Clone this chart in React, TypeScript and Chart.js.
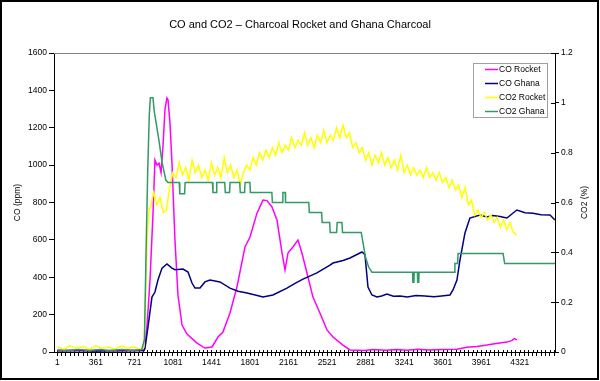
import React, { useEffect, useRef } from "react";
import { Chart, registerables } from "chart.js";

Chart.register(...registerables);

const FONT = "Arial, 'Liberation Sans', sans-serif";

const TITLE = "CO and CO2 \u2013 Charcoal Rocket and Ghana Charcoal";
const SERIES_NAMES = ["CO Rocket", "CO Ghana", "CO2 Rocket", "CO2 Ghana"];
const SERIES_COLORS = ["#FF00FF", "#000080", "#FFFF00", "#339966"];
const Y_LEFT_TITLE = "CO (ppm)";
const Y_RIGHT_TITLE = "CO2 (%)";
const X_LABELS = [1, 361, 721, 1081, 1441, 1801, 2161, 2521, 2881, 3241, 3601, 3961, 4321];
const CO_TICKS = [0, 200, 400, 600, 800, 1000, 1200, 1400, 1600];
const CO2_TICKS = [0, 0.2, 0.4, 0.6, 0.8, 1.0, 1.2];

// [sample index, CO ppm]
const coRocket: [number, number][] = [
  [1, 5], [270, 8], [570, 5], [810, 8], [820, 30], [840, 150], [867, 385], [895, 743],
  [913, 1027], [932, 1000], [951, 1010], [970, 960], [988, 1100], [1007, 1300], [1025, 1359],
  [1035, 1350], [1053, 1230], [1072, 1011], [1100, 599], [1128, 305], [1166, 144], [1212, 96],
  [1306, 48], [1380, 21], [1446, 27], [1502, 80], [1548, 107], [1614, 209], [1679, 348],
  [1754, 562], [1801, 615], [1866, 743], [1922, 813], [1959, 810], [2006, 776], [2053, 706],
  [2100, 530], [2128, 439], [2156, 530], [2202, 562], [2249, 599], [2286, 530], [2333, 423],
  [2389, 294], [2454, 209], [2520, 118], [2576, 80], [2669, 37], [2735, 11], [2870, 8],
  [2950, 13], [3070, 9], [3170, 14], [3270, 10], [3370, 15], [3470, 11], [3600, 14],
  [3734, 15], [3827, 25], [3920, 30], [4014, 37], [4100, 45], [4201, 53], [4250, 62],
  [4270, 72], [4294, 65],
];

// [sample index, CO ppm]
const coGhana: [number, number][] = [
  [1, 8], [170, 10], [370, 6], [570, 10], [810, 8], [820, 20], [848, 134], [885, 294],
  [913, 321], [941, 385], [979, 449], [1025, 471], [1072, 449], [1100, 440], [1175, 444],
  [1222, 428], [1259, 369], [1287, 342], [1334, 342], [1380, 375], [1427, 385], [1520, 375],
  [1614, 342], [1690, 325], [1773, 316], [1850, 305], [1922, 294], [2015, 305], [2146, 342],
  [2230, 370], [2296, 390], [2426, 423], [2548, 465], [2576, 476], [2670, 490], [2735, 503],
  [2847, 535], [2875, 520], [2903, 348], [2940, 305], [2987, 294], [3030, 300], [3080, 310],
  [3140, 298], [3202, 300], [3270, 295], [3350, 302], [3435, 300], [3520, 296], [3590, 300],
  [3669, 305], [3697, 332], [3734, 385], [3762, 492], [3809, 637], [3855, 717], [3949, 733],
  [4014, 722], [4070, 730], [4136, 725], [4201, 717], [4250, 740], [4294, 760], [4370, 745],
  [4444, 743], [4520, 735], [4603, 733], [4650, 706],
];

// [sample index, CO2 %] before the fire starts
const co2RocketStart: [number, number][] = [
  [1, 0.02], [60, 0.01], [120, 0.025], [180, 0.015], [240, 0.022], [300, 0.01], [360, 0.025],
  [420, 0.015], [480, 0.02], [540, 0.012], [600, 0.024], [660, 0.015], [720, 0.02], [780, 0.01],
  [810, 0.02], [820, 0.15], [840, 0.45], [855, 0.56],
];
// CO2 Rocket read every 30 samples, from sample 870
const CO2_ROCKET_FIRST = 870;
const CO2_ROCKET_STEP = 30;
const co2RocketValues = [
  0.58, 0.64, 0.59, 0.62, 0.56, 0.57, 0.66, 0.72, 0.70, 0.76,
  0.71, 0.74, 0.69, 0.77, 0.72, 0.75, 0.70, 0.73, 0.69, 0.76,
  0.71, 0.74, 0.70, 0.78, 0.72, 0.75, 0.70, 0.73, 0.67, 0.72,
  0.75, 0.73, 0.78, 0.75, 0.80, 0.77, 0.81, 0.78, 0.82, 0.79,
  0.84, 0.80, 0.83, 0.81, 0.86, 0.82, 0.85, 0.83, 0.88, 0.83,
  0.86, 0.82, 0.87, 0.84, 0.89, 0.84, 0.87, 0.85, 0.90, 0.86,
  0.91, 0.86, 0.88, 0.82, 0.84, 0.80, 0.82, 0.77, 0.80, 0.75,
  0.79, 0.76, 0.80, 0.75, 0.78, 0.74, 0.77, 0.73, 0.79, 0.72,
  0.75, 0.71, 0.74, 0.71, 0.73, 0.70, 0.74, 0.70, 0.72, 0.69,
  0.72, 0.68, 0.70, 0.66, 0.69, 0.65, 0.67, 0.62, 0.66, 0.59,
  0.61, 0.55, 0.57, 0.54, 0.56, 0.53, 0.55, 0.52, 0.54, 0.50,
  0.53, 0.49, 0.52, 0.48, 0.47,
];

// [sample index, CO2 %]
const co2Ghana: [number, number][] = [
  [1, 0.008], [100, 0.005], [200, 0.01], [300, 0.006], [400, 0.01], [500, 0.005], [600, 0.01],
  [700, 0.006], [790, 0.01], [815, 0.05], [830, 0.4], [845, 0.72], [860, 0.95], [870, 1.02],
  [895, 1.02], [905, 0.97], [920, 0.93], [950, 0.85], [980, 0.76], [1015, 0.69], [1035, 0.68],
  [1140, 0.68], [1145, 0.635], [1190, 0.635], [1195, 0.68], [1450, 0.68], [1455, 0.64],
  [1485, 0.64], [1490, 0.68], [1565, 0.68], [1570, 0.64], [1610, 0.64], [1615, 0.68],
  [1705, 0.68], [1710, 0.64], [1750, 0.64], [1755, 0.68], [1800, 0.68], [1805, 0.64],
  [2005, 0.64], [2010, 0.60], [2105, 0.60], [2108, 0.64], [2130, 0.64], [2133, 0.60],
  [2350, 0.60], [2355, 0.56], [2470, 0.56], [2475, 0.52], [2545, 0.52], [2550, 0.48],
  [2610, 0.48], [2615, 0.52], [2660, 0.52], [2665, 0.48], [2840, 0.48], [2860, 0.43],
  [2880, 0.38], [2910, 0.34], [2940, 0.32], [3320, 0.32], [3322, 0.28], [3332, 0.28],
  [3335, 0.32], [3365, 0.32], [3367, 0.28], [3377, 0.28], [3380, 0.32], [3710, 0.32],
  [3715, 0.355], [3740, 0.355], [3745, 0.395], [4165, 0.395], [4180, 0.355], [4650, 0.355],
];

const X_MIN = -30;
const X_MAX = 4650;
const X_TICK_EVERY = 40;

function co2RocketData(): [number, number][] {
  const pts: [number, number][] = co2RocketStart.slice();
  co2RocketValues.forEach((v, i) => pts.push([CO2_ROCKET_FIRST + i * CO2_ROCKET_STEP, v]));
  return pts;
}

const decor = {
  id: "decor",
  beforeDatasetsDraw(chart: any) {
    const { ctx, chartArea: a } = chart;
    ctx.save();
    ctx.strokeStyle = "#808080";
    ctx.lineWidth = 1;
    ctx.beginPath();
    ctx.moveTo(a.left, Math.round(a.top) + 0.5);
    ctx.lineTo(a.right, Math.round(a.top) + 0.5);
    ctx.stroke();
    // inner halves of the cross tick marks
    ctx.strokeStyle = "#000";
    const y1 = chart.scales.y1;
    ctx.beginPath();
    y1.ticks.forEach((t: any) => {
      const y = Math.round(y1.getPixelForValue(t.value)) + 0.5;
      ctx.moveTo(a.right - 4, y);
      ctx.lineTo(a.right, y);
    });
    const xs = chart.scales.x;
    xs.ticks.forEach((t: any) => {
      const x = Math.round(xs.getPixelForValue(t.value)) + 0.5;
      ctx.moveTo(x, a.bottom - 2);
      ctx.lineTo(x, a.bottom);
    });
    ctx.stroke();
    ctx.restore();
  },
  afterDatasetsDraw(chart: any) {
    const { ctx } = chart;
    ctx.save();
    // legend
    const lx = 473, ly = 63, lw = 74, lh = 54;
    ctx.fillStyle = "#fff";
    ctx.fillRect(lx, ly, lw, lh);
    ctx.strokeStyle = "#a0a0a0";
    ctx.lineWidth = 1;
    ctx.strokeRect(lx + 0.5, ly + 0.5, lw, lh);
    ctx.font = `8.5px ${FONT}`;
    ctx.textBaseline = "middle";
    ctx.textAlign = "left";
    SERIES_NAMES.forEach((name, i) => {
      const y = ly + 6.5 + i * 14;
      ctx.strokeStyle = SERIES_COLORS[i];
      ctx.lineWidth = 1.5;
      ctx.beginPath();
      ctx.moveTo(485, y);
      ctx.lineTo(498, y);
      ctx.stroke();
      ctx.fillStyle = "#000";
      ctx.fillText(name, 499, y);
    });
    ctx.restore();
  },
  afterDraw(chart: any) {
    const { ctx, chartArea: a } = chart;
    ctx.save();
    ctx.fillStyle = "#000";
    ctx.font = `8.5px ${FONT}`;
    ctx.textAlign = "center";
    ctx.textBaseline = "middle";
    const cy = (a.top + a.bottom) / 2;
    ctx.translate(18, cy);
    ctx.rotate(-Math.PI / 2);
    ctx.fillText(Y_LEFT_TITLE, 0, 0);
    ctx.restore();
    ctx.save();
    ctx.fillStyle = "#000";
    ctx.font = `8.5px ${FONT}`;
    ctx.textAlign = "center";
    ctx.textBaseline = "middle";
    ctx.translate(585, cy);
    ctx.rotate(-Math.PI / 2);
    ctx.fillText(Y_RIGHT_TITLE, 0, 0);
    ctx.restore();
    // outer frame
    ctx.save();
    ctx.strokeStyle = "#000";
    ctx.lineWidth = 2;
    ctx.strokeRect(1, 1, 597, 378);
    ctx.restore();
  },
};

export default function App() {
  const ref = useRef<HTMLCanvasElement>(null);
  useEffect(() => {
    if (!ref.current) return;
    const line = (label: string, color: string, data: [number, number][], axis: string, order: number) => ({
      label,
      data,
      yAxisID: axis,
      borderColor: color,
      backgroundColor: color,
      borderWidth: 1.5,
      pointRadius: 0,
      tension: 0,
      fill: false,
      order,
    });
    const chart = new Chart(ref.current, {
      type: "line",
      data: {
        datasets: [
          line(SERIES_NAMES[0], SERIES_COLORS[0], coRocket, "y", 3),
          line(SERIES_NAMES[1], SERIES_COLORS[1], coGhana, "y", 2),
          line(SERIES_NAMES[2], SERIES_COLORS[2], co2RocketData(), "y1", 1),
          line(SERIES_NAMES[3], SERIES_COLORS[3], co2Ghana, "y1", 0),
        ],
      },
      plugins: [decor],
      options: {
        animation: false,
        responsive: false,
        maintainAspectRatio: false,
        layout: { padding: 0 },
        plugins: {
          legend: { display: false },
          tooltip: { enabled: false },
          title: {
            display: true,
            text: TITLE,
            color: "#000",
            font: { family: FONT, size: 11, weight: "normal" },
            padding: { top: 18, bottom: 21.8 },
          },
        },
        scales: {
          x: {
            type: "linear",
            min: X_MIN,
            max: X_MAX,
            afterBuildTicks: (s: any) => {
              const t: any[] = [];
              for (let v = 1; v <= X_MAX; v += X_TICK_EVERY) t.push({ value: v });
              s.ticks = t;
            },
            afterFit: (s: any) => {
              s.height = 29;
            },
            ticks: {
              autoSkip: false,
              maxRotation: 0,
              minRotation: 0,
              padding: 2,
              color: "#000",
              font: { family: FONT, size: 8.5 },
              callback: (v: any) => (X_LABELS.includes(v) ? String(v) : ""),
            },
            grid: { display: true, drawOnChartArea: false, drawTicks: true, tickLength: 4, color: "#000" },
            border: { display: true, color: "#000", width: 1 },
          },
          y: {
            type: "linear",
            position: "left",
            min: 0,
            max: 1600,
            afterBuildTicks: (s: any) => {
              s.ticks = CO_TICKS.map((v) => ({ value: v }));
            },
            afterFit: (s: any) => {
              s.width = 54;
            },
            ticks: {
              padding: 2,
              color: "#000",
              font: { family: FONT, size: 8.5 },
              callback: (v: any) => String(v),
            },
            grid: { display: true, drawOnChartArea: false, drawTicks: true, tickLength: 5, color: "#000" },
            border: { display: true, color: "#000", width: 1 },
          },
          y1: {
            type: "linear",
            position: "right",
            min: 0,
            max: 1.2,
            afterBuildTicks: (s: any) => {
              s.ticks = CO2_TICKS.map((v) => ({ value: v }));
            },
            afterFit: (s: any) => {
              s.width = 45;
            },
            ticks: {
              padding: 2,
              color: "#000",
              font: { family: FONT, size: 8.5 },
              callback: (v: any) => String(Math.round(v * 10) / 10),
            },
            grid: { display: true, drawOnChartArea: false, drawTicks: true, tickLength: 4, color: "#000" },
            border: { display: true, color: "#000", width: 1 },
          },
        },
      },
    } as any);
    return () => chart.destroy();
  }, []);
  return (
    <div style={{ position: "fixed", left: 0, top: 0, width: 600, height: 381, background: "#fff" }}>
      <canvas ref={ref} width={600} height={381} style={{ width: 600, height: 381, display: "block" }} />
    </div>
  );
}
